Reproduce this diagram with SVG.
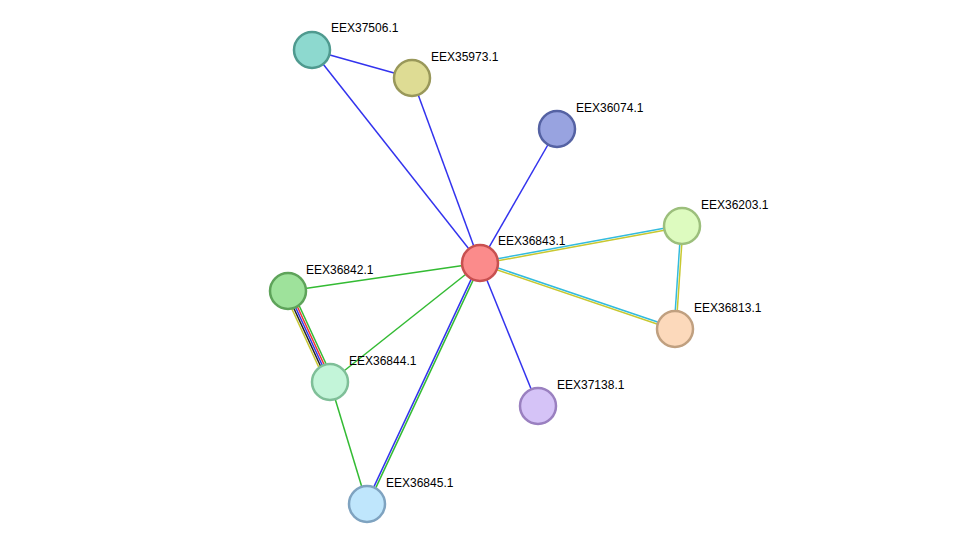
<svg xmlns="http://www.w3.org/2000/svg" width="975" height="550" viewBox="0 0 975 550">
<style>
.n{stroke-width:2.5}
.t{font-family:"Liberation Sans",Arial,sans-serif;font-size:12px;fill:#000}
.e line{stroke-width:1.5}
.b{stroke:#3333ee}.g{stroke:#33bb33}.c{stroke:#33bbdd}.y{stroke:#c8c830}.r{stroke:#ee3333}.k{stroke:#222}
</style>
<rect width="975" height="550" fill="#fff"/>
<g id="connectors" class="e">
<line class="b" x1="312" y1="50" x2="412" y2="78"/>
<line class="b" x1="312" y1="50" x2="480" y2="263"/>
<line class="b" x1="412" y1="78" x2="480" y2="263"/>
<line class="b" x1="557" y1="129" x2="480" y2="263"/>
<line class="c" x1="479.8" y1="262" x2="681.8" y2="225"/>
<line class="y" x1="480.2" y1="264" x2="682.2" y2="227"/>
<line class="c" x1="480.3" y1="262" x2="675.3" y2="328"/>
<line class="y" x1="479.7" y1="264" x2="674.7" y2="330"/>
<line class="c" x1="681" y1="226" x2="674" y2="329"/>
<line class="y" x1="683" y1="226" x2="676" y2="329"/>
<line class="g" x1="480" y1="263" x2="288" y2="291"/>
<line class="g" x1="480" y1="263" x2="330" y2="382"/>
<line class="b" x1="479" y1="262.6" x2="366" y2="503.6"/>
<line class="g" x1="481" y1="263.4" x2="368" y2="504.4"/>
<line class="b" x1="480" y1="263" x2="538" y2="406"/>
<line class="g" x1="330" y1="382" x2="367" y2="504"/>
<line class="y" x1="284.4" y1="292.7" x2="326.4" y2="383.7"/>
<line class="k" x1="286.2" y1="291.8" x2="328.2" y2="382.8"/>
<line class="b" x1="288" y1="291" x2="330" y2="382"/>
<line class="r" x1="289.8" y1="290.2" x2="331.8" y2="381.2"/>
<line class="g" x1="291.6" y1="289.3" x2="333.6" y2="380.3"/>
</g>
<g id="EEX37506.1"><circle class="n" cx="312" cy="50" r="18" fill="#8dd9cf" stroke="#4f9a8f"/><text class="t" x="331" y="32">EEX37506.1</text></g>
<g id="EEX35973.1"><circle class="n" cx="412" cy="78" r="18" fill="#dedc94" stroke="#99985a"/><text class="t" x="431" y="61">EEX35973.1</text></g>
<g id="EEX36074.1"><circle class="n" cx="557" cy="129" r="18" fill="#98a3e0" stroke="#5562a3"/><text class="t" x="576" y="112">EEX36074.1</text></g>
<g id="EEX36203.1"><circle class="n" cx="682" cy="226" r="18" fill="#ddfbbf" stroke="#9cbf7c"/><text class="t" x="701" y="209">EEX36203.1</text></g>
<g id="EEX36843.1"><circle class="n" cx="480" cy="263" r="18" fill="#fb8b8b" stroke="#c85050"/><text class="t" x="498" y="245">EEX36843.1</text></g>
<g id="EEX36842.1"><circle class="n" cx="288" cy="291" r="18" fill="#9ee29b" stroke="#5ea35a"/><text class="t" x="306" y="274">EEX36842.1</text></g>
<g id="EEX36813.1"><circle class="n" cx="675" cy="329" r="18" fill="#fcd9bb" stroke="#c0a080"/><text class="t" x="694" y="312">EEX36813.1</text></g>
<g id="EEX36844.1"><circle class="n" cx="330" cy="382" r="18" fill="#c3f5d9" stroke="#7fbf98"/><text class="t" x="349" y="365">EEX36844.1</text></g>
<g id="EEX37138.1"><circle class="n" cx="538" cy="406" r="18" fill="#d5c3f7" stroke="#9a80c0"/><text class="t" x="557" y="389">EEX37138.1</text></g>
<g id="EEX36845.1"><circle class="n" cx="367" cy="504" r="18" fill="#bfe6fc" stroke="#7fa3c0"/><text class="t" x="386" y="487">EEX36845.1</text></g>
</svg>
